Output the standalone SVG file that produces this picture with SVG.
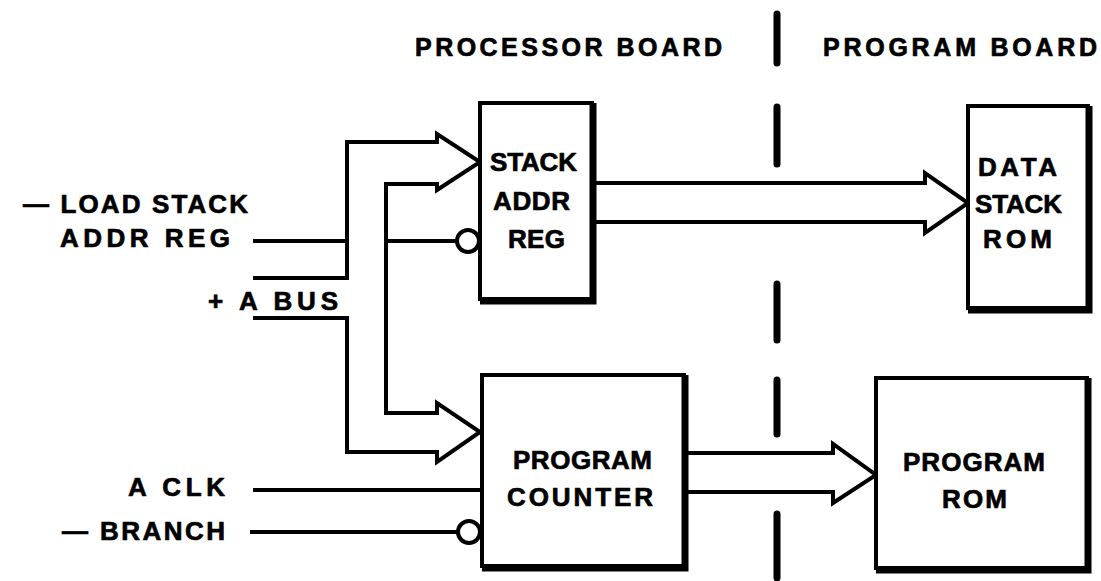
<svg xmlns="http://www.w3.org/2000/svg" width="1101" height="581" viewBox="0 0 1101 581">
<style>
.bg{fill:#fff}
.box{fill:#fff;stroke:#000;stroke-width:4;stroke-linejoin:miter}
.shade{fill:none;stroke:#000;stroke-width:7;stroke-linejoin:miter}
.wire{fill:none;stroke:#000;stroke-width:4;stroke-linejoin:miter;stroke-linecap:butt}
.bub{fill:#fff;stroke:#000;stroke-width:4}
.dash{fill:none;stroke:#000;stroke-width:7;stroke-linecap:round}
text{font-family:"Liberation Sans",Arial,sans-serif;font-weight:bold;fill:#000;stroke:#000;stroke-width:0.7;stroke-linejoin:round}
.t{font-size:26px}
.h{font-size:25px}
</style>
<rect class="bg" x="0" y="0" width="1101" height="581"/>

<g id="board-divider">
<path class="dash" d="M777 14 V63 M777 107 V164 M777 284 V340 M777 380 V434 M777 514 V578"/>
</g>

<g id="headers">
<text class="h" x="415" y="56" textLength="307" lengthAdjust="spacing">PROCESSOR BOARD</text>
<text class="h" x="823" y="56" textLength="274" lengthAdjust="spacing">PROGRAM BOARD</text>
</g>

<g id="connectors">
<path class="wire" d="M253 278 H347 V142 H437 V134 L480 162 L437 190 V184 H386 V413 H437 V403 L480 432 L437 462 V452 H347 V318 H253"/>
<path class="wire" d="M253 241 H347 M386 241 H457"/>
<circle class="bub" cx="468" cy="241" r="11"/>
<path class="wire" d="M593 183 H925 V173 L968 203 L925 233 V222 H593"/>
<path class="wire" d="M685 453 H833 V444 L876 475 L833 503 V492 H685"/>
<path class="wire" d="M253 490 H482"/>
<path class="wire" d="M250 532 H458"/>
<circle class="bub" cx="469" cy="532" r="11"/>
</g>

<g id="input-labels">
<text class="t" x="23" y="213" textLength="225" lengthAdjust="spacing">— LOAD STACK</text>
<text class="t" x="60" y="247" textLength="170" lengthAdjust="spacing">ADDR REG</text>
<text class="t" x="208" y="310" textLength="130" lengthAdjust="spacing">+ A BUS</text>
<text class="t" x="128" y="496" textLength="97" lengthAdjust="spacing">A CLK</text>
<text class="t" x="62" y="540" textLength="163" lengthAdjust="spacing">— BRANCH</text>
</g>

<g id="stack-addr-reg">
<rect class="box" x="480" y="103" width="112" height="196"/>
<path class="shade" d="M593 103 V301 H480"/>
<text class="t" x="490" y="171" textLength="87" lengthAdjust="spacing">STACK</text>
<text class="t" x="493" y="210" textLength="77" lengthAdjust="spacing">ADDR</text>
<text class="t" x="508" y="248" textLength="57" lengthAdjust="spacing">REG</text>
</g>

<g id="data-stack-rom">
<rect class="box" x="968" y="106" width="120" height="202"/>
<path class="shade" d="M1089 106 V310 H968"/>
<text class="t" x="978" y="176" textLength="79" lengthAdjust="spacing">DATA</text>
<text class="t" x="975" y="213" textLength="87" lengthAdjust="spacing">STACK</text>
<text class="t" x="983" y="248" textLength="69" lengthAdjust="spacing">ROM</text>
</g>

<g id="program-counter">
<rect class="box" x="482" y="375" width="202" height="191"/>
<path class="shade" d="M685 375 V568 H482"/>
<text class="t" x="513" y="469" textLength="139" lengthAdjust="spacing">PROGRAM</text>
<text class="t" x="507" y="506" textLength="146" lengthAdjust="spacing">COUNTER</text>
</g>

<g id="program-rom">
<rect class="box" x="876" y="378" width="211" height="190"/>
<path class="shade" d="M1088 378 V570 H876"/>
<text class="t" x="903" y="471" textLength="142" lengthAdjust="spacing">PROGRAM</text>
<text class="t" x="942" y="508" textLength="65" lengthAdjust="spacing">ROM</text>
</g>
</svg>
